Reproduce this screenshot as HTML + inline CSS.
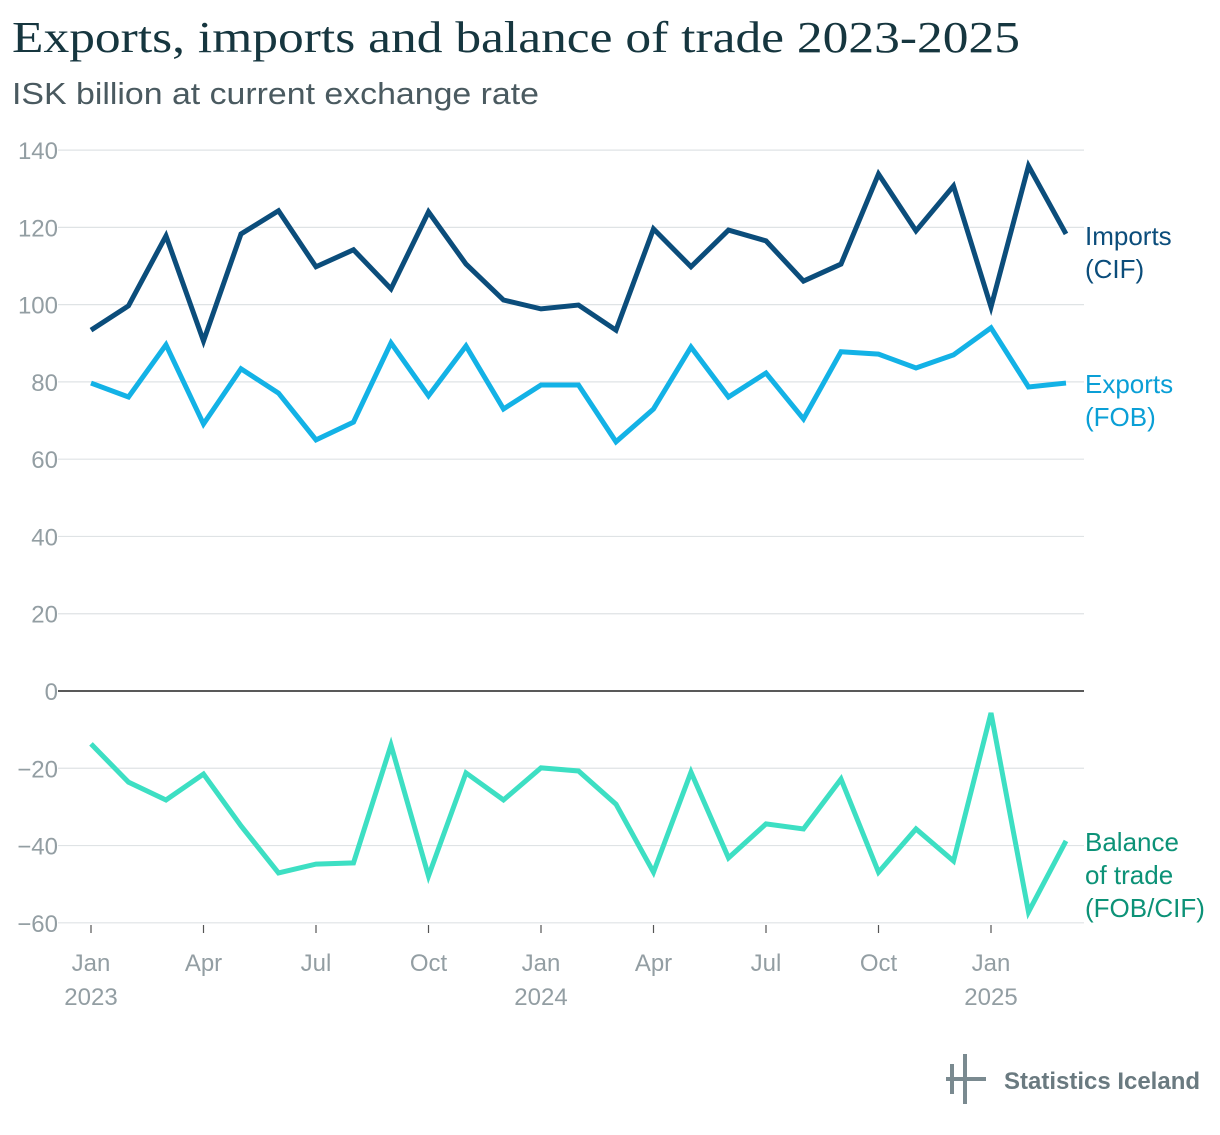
<!DOCTYPE html>
<html><head><meta charset="utf-8"><style>
body{margin:0;background:#fff;width:1220px;height:1130px;overflow:hidden;font-family:"Liberation Sans",sans-serif}
</style></head><body>
<svg id="chart" width="1220" height="1130" xmlns="http://www.w3.org/2000/svg">
<text x="12" y="52" font-family="Liberation Serif, serif" font-size="44" fill="#16363f" textLength="1008" lengthAdjust="spacingAndGlyphs">Exports, imports and balance of trade 2023-2025</text>
<text x="12" y="104" font-size="31" fill="#4a5a60" textLength="527" lengthAdjust="spacingAndGlyphs">ISK billion at current exchange rate</text>
<g id="grid"></g><g id="lines"></g><g id="labels"></g>
<g>
<rect x="950" y="1064" width="4" height="30" fill="#7a8a90"/>
<rect x="963" y="1054" width="4" height="50" fill="#7a8a90"/>
<rect x="946" y="1077" width="40" height="4" fill="#7a8a90"/>
<text x="1004" y="1089" font-size="24" font-weight="bold" fill="#6a7a80" textLength="196" lengthAdjust="spacingAndGlyphs">Statistics Iceland</text>
</g>
</svg>
<script>
const months=["Jan","Feb","Mar","Apr","May","Jun","Jul","Aug","Sep","Oct","Nov","Dec","Jan","Feb","Mar","Apr","May","Jun","Jul","Aug","Sep","Oct","Nov","Dec","Jan","Feb","Mar"];
const imports=[93.4,99.7,117.8,90.6,118.3,124.3,109.8,114.2,104.1,124,110.5,101.2,98.9,99.9,93.4,119.6,109.8,119.3,116.5,106.1,110.5,133.8,119.1,130.7,99.4,135.9,118.3];
const exportsV=[79.7,76.1,89.6,69.1,83.4,77.1,65,69.6,90.1,76.4,89.3,73,79.2,79.2,64.5,73,89,76.1,82.3,70.4,87.8,87.2,83.6,87,94,78.7,79.7];
const balance=[-13.7,-23.6,-28.2,-21.5,-34.9,-47.1,-44.8,-44.5,-14,-47.9,-21.2,-28.2,-19.9,-20.7,-29.3,-46.9,-21,-43.2,-34.4,-35.7,-22.8,-46.9,-35.7,-44,-5.7,-57.2,-38.8];
const yTicks=[140,120,100,80,60,40,20,0,-20,-40,-60];
const xTickIdx=[0,3,6,9,12,15,18,21,24];
const xTickLabels=["Jan","Apr","Jul","Oct","Jan","Apr","Jul","Oct","Jan"];
const yearLabels=[[0,"2023"],[12,"2024"],[24,"2025"]];
const NS="http://www.w3.org/2000/svg";
const x=i=>91+i*(1066-91)/26;
const y=v=>691-v*3.8636;
function mk(tag,attrs,parent,text){const e=document.createElementNS(NS,tag);for(const k in attrs)e.setAttribute(k,attrs[k]);if(text!==undefined)e.textContent=text;document.getElementById(parent).appendChild(e);return e;}
yTicks.forEach(t=>{
 const l=mk("line",{x1:58,x2:1084,y1:y(t),y2:y(t),stroke:t===0?"#222":"#dfe3e5","stroke-width":t===0?1.6:1.2},"grid");
 
 
 const tx=mk("text",{x:58,y:y(t)+9,"text-anchor":"end","font-size":24,fill:"#939ea3"},"grid",t<0?"\u2212"+(-t):t);
 
 
});
xTickIdx.forEach((i,k)=>{
 const l=mk("line",{x1:x(i),x2:x(i),y1:925,y2:933,stroke:"#555","stroke-width":1.2},"grid");
 
 
 const tx=mk("text",{x:x(i),y:971,"text-anchor":"middle","font-size":24,fill:"#939ea3"},"grid",xTickLabels[k]);
 
 
});
yearLabels.forEach(([i,t])=>{
 const tx=mk("text",{x:x(i),y:1005,"text-anchor":"middle","font-size":24,fill:"#939ea3"},"grid",t);
 
 
});
function series(vals,color,name){
 const p=mk("polyline",{points:vals.map((v,i)=>x(i)+","+y(v)).join(" "),fill:"none",stroke:color,"stroke-width":5,"stroke-linejoin":"miter","stroke-linecap":"butt"},"lines");
 
 
}
series(balance,"#3ddfc3","balance-line");
series(exportsV,"#13b2e6","exports-line");
series(imports,"#0b4d7b","imports-line");
function lab(lines,yy,color,name){lines.forEach((s,k)=>{const t=mk("text",{x:1085,y:yy+k*33,"font-size":26,fill:color},"labels",s);
 
 });}
lab(["Imports","(CIF)"],245,"#0b4d7b","imports-label");
lab(["Exports","(FOB)"],393,"#0a9fd6","exports-label");
lab(["Balance","of trade","(FOB/CIF)"],851,"#0c9277","balance-label");
</script>
</body></html>
